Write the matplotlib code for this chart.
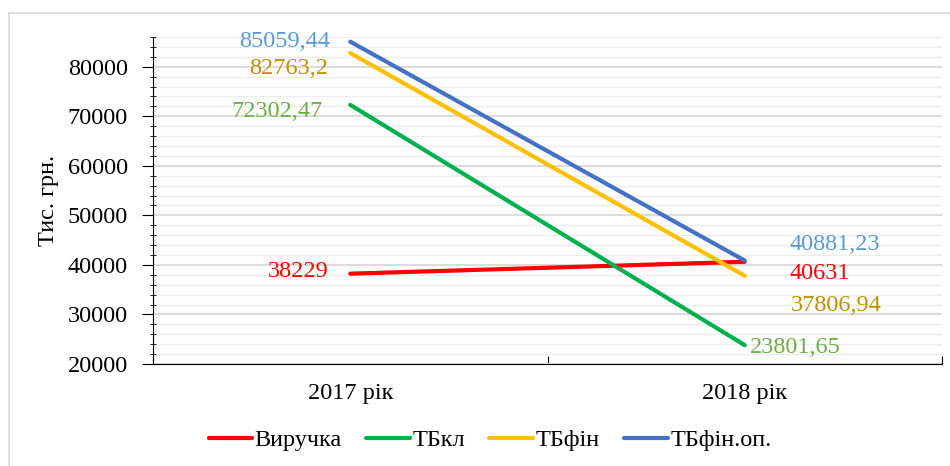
import matplotlib
matplotlib.use("Agg")
import matplotlib.pyplot as plt
from matplotlib.lines import Line2D
from matplotlib.ticker import MultipleLocator

categories = ["2017 рік", "2018 рік"]
series_names = ["Виручка", "ТБкл", "ТБфін", "ТБфін.оп."]
vyruchka = [38229, 40631]
tbkl = [72302.47, 23801.65]
tbfin = [82763.2, 37806.94]
tbfin_op = [85059.44, 40881.23]
label_2017 = ["38229", "72302,47", "82763,2", "85059,44"]
label_2018 = ["40631", "23801,65", "37806,94", "40881,23"]

line_colors = ["#FF0000", "#00B050", "#FFC000", "#4472C4"]
text_colors = ["#FF0000", "#70AD47", "#BF9000", "#5B9BD5"]

plt.rcParams['font.family'] = ['Liberation Serif', 'DejaVu Serif']
FS = 17.5

fig = plt.figure(figsize=(9.5, 4.66), dpi=100)
ax = fig.add_axes([153/950, 1-364/466, (942-153)/950, (364-37)/466])

x = list(range(len(categories)))
all_series = [vyruchka, tbkl, tbfin, tbfin_op]
for s, name, c in zip(all_series, series_names, line_colors):
    ax.plot(x, s, color=c, lw=3, label=name, solid_capstyle='round')

ax.set_xlim(-0.5, 1.5)
ax.set_ylim(20000, 86000)
ax.yaxis.set_major_locator(MultipleLocator(10000))
ax.yaxis.set_minor_locator(MultipleLocator(2000))
ax.grid(which='major', axis='y', color='#D9D9D9', lw=1.3)
ax.grid(which='minor', axis='y', color='#EDEDED', lw=1.0)
ax.set_axisbelow(True)
ax.set_xticks([-0.5, 0.5, 1.5])
ax.set_xticklabels([])
ax.tick_params(axis='x', which='major', length=6, direction='in', color='black')
ax.tick_params(axis='y', which='major', length=8, direction='out', labelsize=FS, pad=10)
ax.tick_params(axis='y', which='minor', length=5, direction='inout')
for sp in ['top', 'right']:
    ax.spines[sp].set_visible(False)
ax.spines['left'].set_color('black')
ax.spines['bottom'].set_color('black')
for i, cat in enumerate(categories):
    ax.text(i, -0.09, cat, transform=ax.get_xaxis_transform(), ha='center', va='center', fontsize=FS)

ax.set_ylabel("Тис. грн.", fontsize=FS, labelpad=6)

# data labels 2017 (left of points), offsets in pixels
off17 = [(-22, 2), (-28, -7), (-22, -15), (-20, 0)]
for txt, s, c, off in zip(label_2017, all_series, text_colors, off17):
    ax.annotate(txt, (0, s[0]), xytext=off, textcoords='offset pixels',
                ha='right', va='center', color=c, fontsize=FS)

# data labels 2018
off18 = [(45, -12), (5, -2), (46, -30), (45, 16)]
for txt, s, c, off in zip(label_2018, all_series, text_colors, off18):
    ax.annotate(txt, (1, s[1]), xytext=off, textcoords='offset pixels',
                ha='left', va='center', color=c, fontsize=FS)

fig.legend(loc='center', bbox_to_anchor=(490/950, 1-440/466), ncol=4, frameon=False,
           fontsize=FS, handlelength=1.8, handletextpad=0.1, columnspacing=1.0)

# chart area border (top and left only visible)
fig.add_artist(Line2D([8.5/950, 8.5/950], [0, 1-13/466], transform=fig.transFigure, color='#D9D9D9', lw=1.2))
fig.add_artist(Line2D([8.5/950, 1], [1-13/466, 1-13/466], transform=fig.transFigure, color='#D9D9D9', lw=1.2))

fig.savefig("out.png", dpi=100)
